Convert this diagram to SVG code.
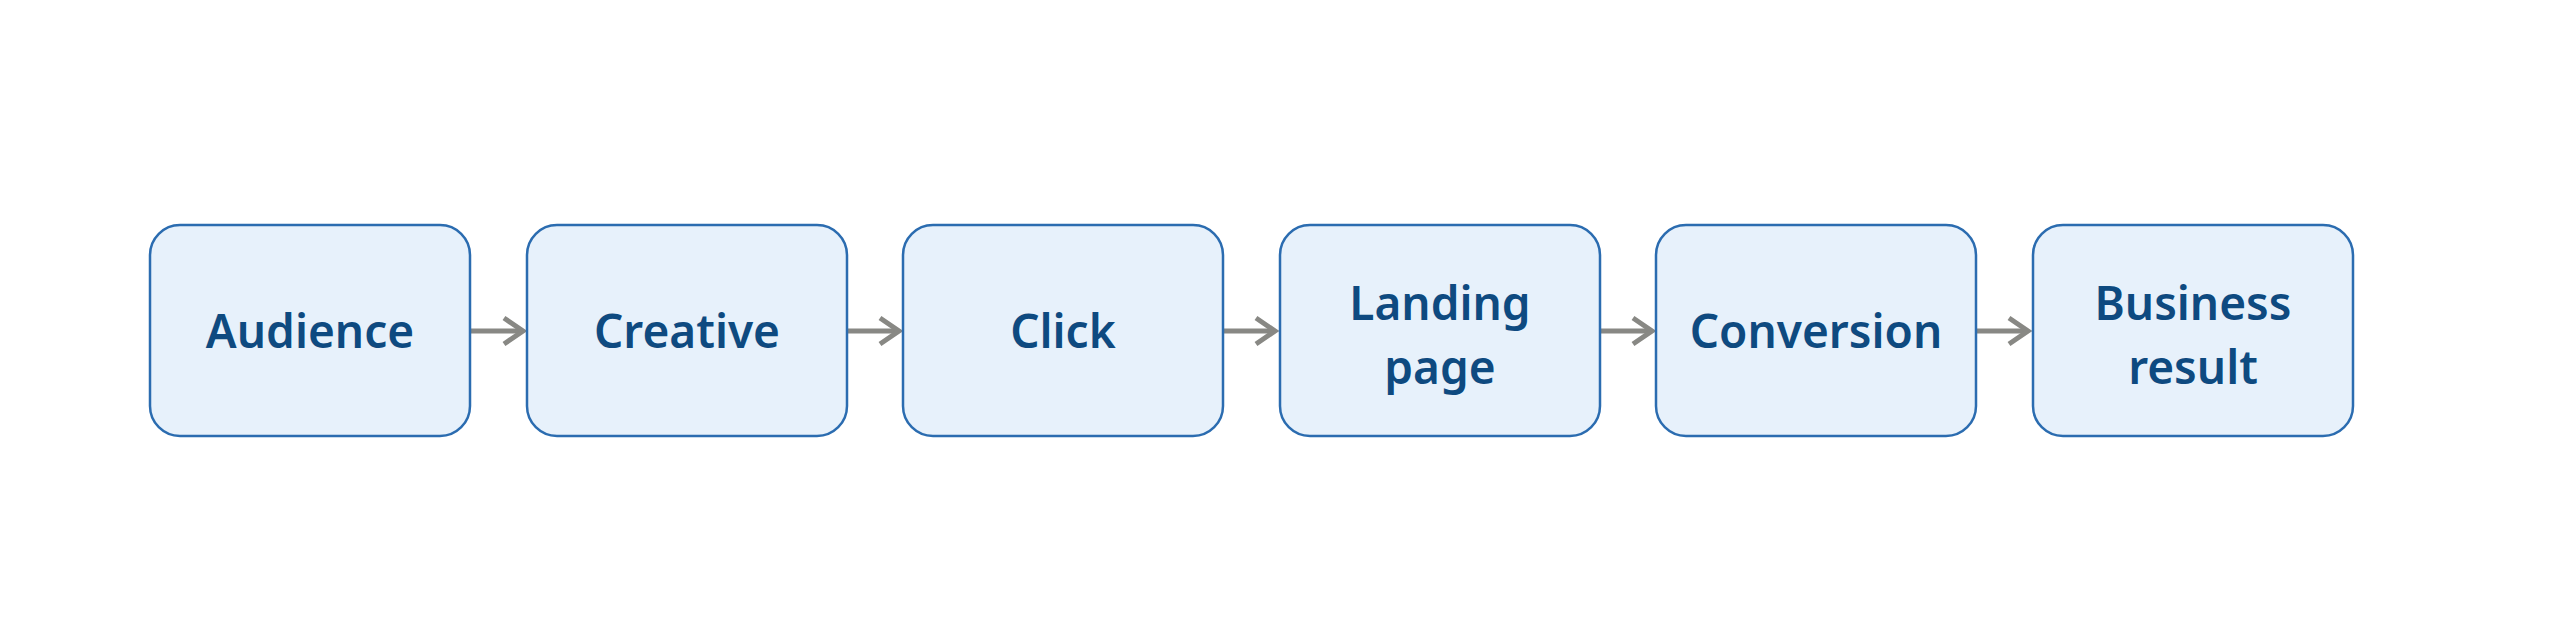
<svg xmlns="http://www.w3.org/2000/svg" width="2560" height="640" viewBox="0 0 2560 640">
<style>
.box{fill:#e7f1fb;stroke:#2b6cb0;stroke-width:2.5}
.t{font-family:"Noto Sans","Open Sans",sans-serif;font-weight:600;font-size:46px;fill:#0e4a80;text-anchor:middle}
.c{stroke:#888884;stroke-width:5;fill:none}
</style>
<defs><marker id="a" markerWidth="12" markerHeight="12" refX="9" refY="6" orient="auto" markerUnits="userSpaceOnUse" viewBox="0 0 12 12"><path d="M0,0 L10,6 L0,12" fill="none" stroke="#888884" stroke-width="0"/></marker></defs>
<rect width="2560" height="640" fill="#fff"/>
<g id="connectors">
<g class="c"><path d="M471,331 H522"/><path d="M504,318 L523,331 L504,344"/>
<path d="M847,331 H898"/><path d="M880,318 L899,331 L880,344"/>
<path d="M1223,331 H1274"/><path d="M1256,318 L1275,331 L1256,344"/>
<path d="M1600,331 H1651"/><path d="M1633,318 L1652,331 L1633,344"/>
<path d="M1976,331 H2027"/><path d="M2009,318 L2028,331 L2009,344"/></g>
</g>
<g id="n1"><rect class="box" x="150" y="225" width="320" height="211" rx="30"/><text class="t" x="310" y="348">Audience</text></g>
<g id="n2"><rect class="box" x="527" y="225" width="320" height="211" rx="30"/><text class="t" x="687" y="348">Creative</text></g>
<g id="n3"><rect class="box" x="903" y="225" width="320" height="211" rx="30"/><text class="t" x="1063" y="348">Click</text></g>
<g id="n4"><rect class="box" x="1280" y="225" width="320" height="211" rx="30"/><text class="t" x="1440" y="320">Landing</text><text class="t" x="1440" y="384">page</text></g>
<g id="n5"><rect class="box" x="1656" y="225" width="320" height="211" rx="30"/><text class="t" x="1816" y="348">Conversion</text></g>
<g id="n6"><rect class="box" x="2033" y="225" width="320" height="211" rx="30"/><text class="t" x="2193" y="320">Business</text><text class="t" x="2193" y="384">result</text></g>
</svg>
